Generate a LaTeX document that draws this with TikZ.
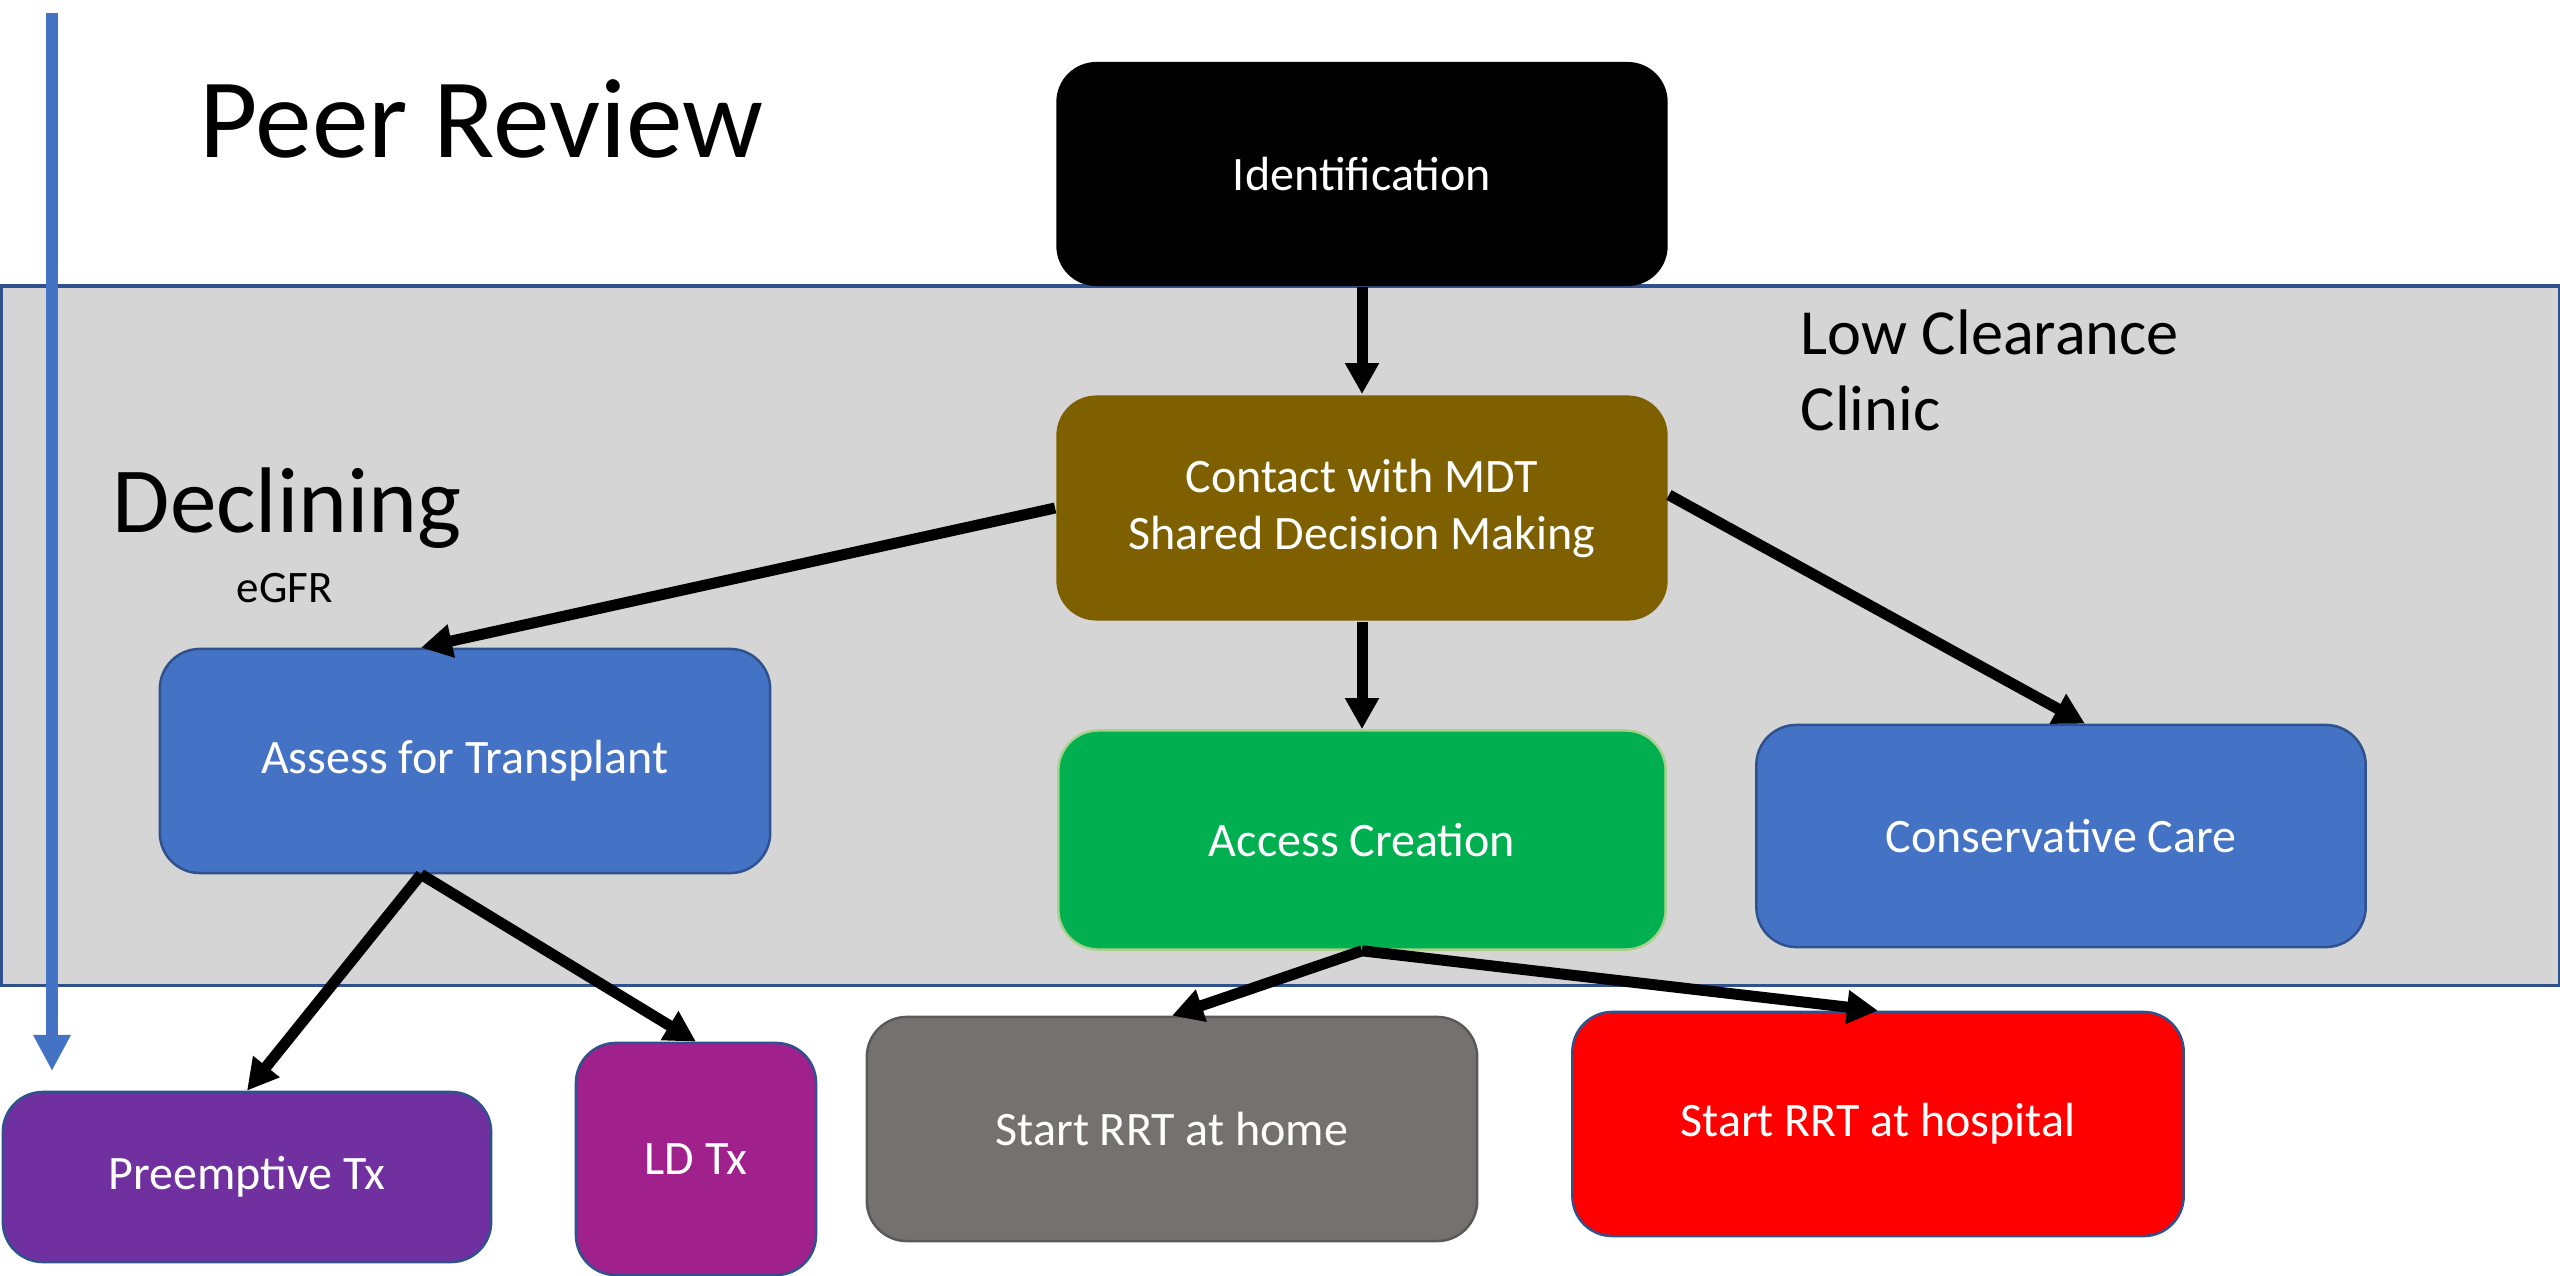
\documentclass[tikz,border=0pt]{standalone}
\usepackage{fontspec}
\setmainfont{Carlito}
\usetikzlibrary{calc, positioning, arrows.meta}
\definecolor{bandgray}{HTML}{D5D5D5}
\definecolor{edgeblue}{HTML}{2F528F}
\definecolor{boxblue}{HTML}{4472C4}
\definecolor{mdtbrown}{HTML}{7F6000}
\definecolor{accessgreen}{HTML}{00B050}
\definecolor{accessedge}{HTML}{A9D18E}
\definecolor{txpurple}{HTML}{7030A0}
\definecolor{ldmagenta}{HTML}{A0208C}
\definecolor{homegray}{HTML}{767171}
\definecolor{homeedge}{HTML}{595959}

\begin{document}
\begin{tikzpicture}[x=0.01cm, y=-0.01cm,
  box/.style={rounded corners=0.4cm, text=white, align=center, inner sep=0pt,
    line width=0.025cm, font=\fontsize{13.66}{16.2}\selectfont},
  flow/.style={line width=0.11cm, -{Triangle[length=0.31cm, width=0.32cm]}},
  label/.style={anchor=base west, inner sep=0pt}]
  \useasboundingbox (0,0) rectangle (2560,1276);

  % Low clearance band
  \draw[edgeblue, fill=bandgray, line width=0.03cm] (1,286) rectangle (2559,985);

  % Headings
  \node[label, font=\fontsize{32.2}{38}\selectfont] (title) at (199,158) {Peer Review};
  \node[label, font=\fontsize{26.5}{32}\selectfont] (declining) at (112,532) {Declining};
  \node[label, font=\fontsize{12.8}{15}\selectfont] (egfr) at (236,602) {eGFR};
  \node[label, align=left, font=\fontsize{18.3}{21.6}\selectfont] (clinic) at (1800,430) {Low Clearance\\Clinic};

  % eGFR arrow
  \coordinate (gfrtop) at (52,13);
  \coordinate (gfrend) at (52,1071);
  \draw[boxblue, line width=0.12cm, -{Triangle[length=0.36cm, width=0.35cm]}] (gfrtop) -- (gfrend);

  % Pathway boxes
  \node[box, fill=black, minimum width=6.11cm, minimum height=2.24cm] (ident) at (1362,174) {Identification};
  \node[box, fill=mdtbrown, minimum width=6.11cm, minimum height=2.25cm] (mdt) at (1362,508) {Contact with MDT\\Shared Decision Making};
  \node[box, draw=edgeblue, fill=boxblue, minimum width=6.1cm, minimum height=2.24cm] (assess) at (465,761) {Assess for Transplant};
  \node[box, draw=accessedge, fill=accessgreen, minimum width=6.07cm, minimum height=2.19cm] (access) at (1362,840) {Access Creation};
  \node[box, draw=edgeblue, fill=boxblue, minimum width=6.09cm, minimum height=2.22cm] (conserv) at (2061,836) {Conservative Care};
  \node[box, draw=edgeblue, fill=txpurple, minimum width=4.88cm, minimum height=1.7cm] (preempt) at (247,1177) {Preemptive Tx};
  \node[box, draw=edgeblue, fill=ldmagenta, minimum width=2.4cm, minimum height=2.32cm] (ldtx) at (696,1159) {LD Tx};
  \node[box, draw=homeedge, fill=homegray, minimum width=6.1cm, minimum height=2.24cm] (home) at (1172,1129) {Start RRT at home};
  \node[box, draw=edgeblue, fill=red, minimum width=6.11cm, minimum height=2.24cm] (hosp) at (1878,1124) {Start RRT at hospital};

  % Connectors
  \draw[flow] (ident.south) -- (mdt.north);
  \draw[flow] (mdt.west) -- ($(assess.north)+(-44,0)$);
  \draw[flow] (mdt.south) -- (access.north);
  \draw[flow] ($(mdt.east)+(0,-13)$) -- ($(conserv.north)+(24,0)$);
  \draw[flow] ($(assess.south)+(-44,0)$) -- (preempt.north);
  \draw[flow] ($(assess.south)+(-44,0)$) -- (ldtx.north);
  \draw[flow] (access.south) -- (home.north);
  \draw[flow] (access.south) -- (hosp.north);
\end{tikzpicture}
\end{document}
